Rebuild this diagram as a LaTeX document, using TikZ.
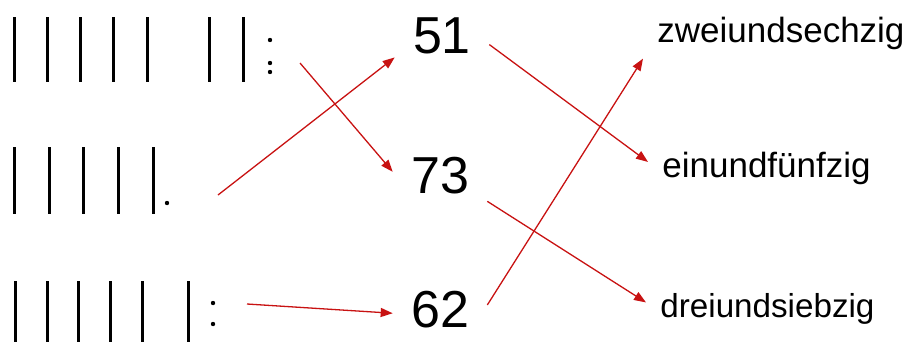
\documentclass[tikz,border=0pt]{standalone}
\usepackage{fontspec}
\setmainfont{Liberation Sans}
\usetikzlibrary{arrows.meta}
\definecolor{linkred}{RGB}{200,18,18}
\tikzset{
  bar/.style={line width=1.5pt},
  num/.style={inner sep=9pt, font=\fontsize{26}{30}\selectfont, anchor=base},
  word/.style={inner sep=7pt, font=\fontsize{17.5}{21}\selectfont, anchor=base west},
  link/.style={draw=linkred, line width=0.65pt, -{Triangle[length=6pt,width=4.5pt]}}
}

\begin{document}
\begin{tikzpicture}[x=0.5pt,y=-0.5pt]
\useasboundingbox (0,0) rectangle (914,343);

% tallies: bars are tens, dots are units
\foreach \x in {14,47,80,113,147,209,243} \draw[bar] (\x,17) -- (\x,82);
\fill (270,40) circle (1.1pt) (270,63) circle (1.1pt) (270,72) circle (1.1pt);
\foreach \x in {14,49,83,118,153} \draw[bar] (\x,147) -- (\x,214);
\fill (167,203) circle (1.1pt);
\foreach \x in {15,47,78,110,142,188} \draw[bar] (\x,281) -- (\x,342);
\fill (213,303) circle (1.1pt) (213,324) circle (1.1pt);

\coordinate (row73) at (300,63);
\coordinate (row51) at (218,195);
\coordinate (row62) at (247,304);

% numbers
\node[num] (n51) at (442,53) {51};
\node[num] (n73) at (440,193) {73};
\node[num] (n62) at (440,327) {62};

% words
\node[word] (w62) at (643,42) {zweiundsechzig};
\node[word] (w51) at (648,177) {einundfünfzig};
\node[word, font=\fontsize{16.6}{20}\selectfont] (w73) at (646,317) {dreiundsiebzig};

\draw[link] (row73) -- (n73.176);
\draw[link] (row51) -- (n51.205);
\draw[link] (row62) -- (n62.185);
\draw[link] (n51.-11) -- ([yshift=3pt]w51.west);
\draw[link] (n73.-29) -- ([yshift=3pt]w73.west);
\draw[link] (n62.5) -- ([yshift=2.5pt]w62.south west);
\end{tikzpicture}
\end{document}
